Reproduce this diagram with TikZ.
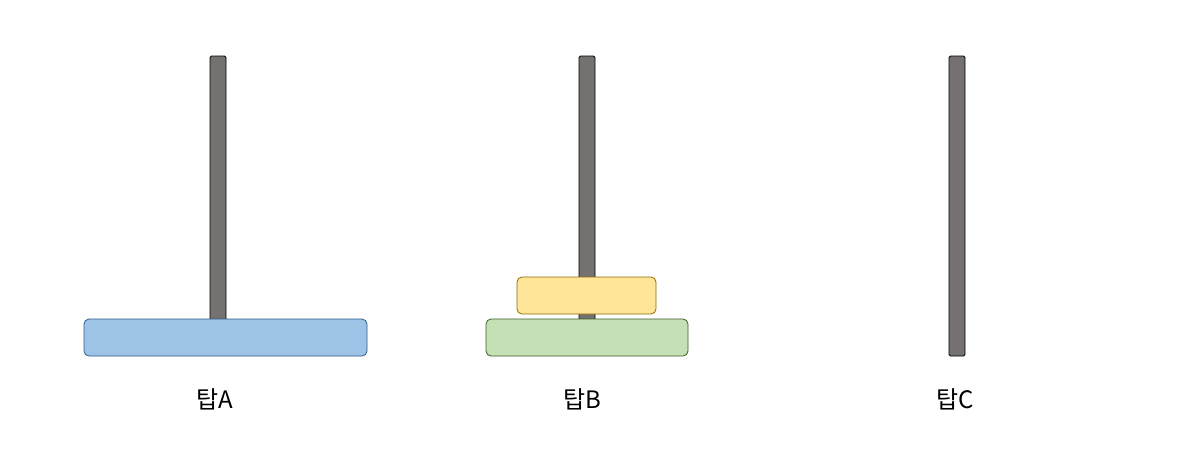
\documentclass[tikz,border=0pt]{standalone}
\usepackage{fontspec}
\newfontfamily\kr{Noto Sans CJK KR}[Scale=1.0]
\definecolor{polefill}{HTML}{767171}
\definecolor{bluefill}{HTML}{9DC3E6}
\definecolor{blueline}{HTML}{2E5A8C}
\definecolor{yelfill}{HTML}{FFE599}
\definecolor{yelline}{HTML}{8C6D00}
\definecolor{grnfill}{HTML}{C5E0B4}
\definecolor{grnline}{HTML}{3B5E27}
\tikzset{
  pole/.style={draw=black, fill=polefill, rounded corners=1.5pt, line width=0.8pt},
  disk/.style={rounded corners=5pt, line width=0.8pt},
  lbl/.style={font=\kr\fontsize{24}{28}\selectfont, inner sep=0pt},
}
\begin{document}
\begin{tikzpicture}[x=1pt,y=-1pt]
\useasboundingbox (0,0) rectangle (1184,471);
% poles
\draw[pole] (210,56) rectangle (226,322);
\draw[pole] (579,56) rectangle (595,322);
\draw[pole] (949,56) rectangle (965,356);
% disks
\draw[disk, draw=blueline, fill=bluefill] (84,319) rectangle (367,356);
\draw[disk, draw=yelline, fill=yelfill] (517,277) rectangle (656,314);
\draw[disk, draw=grnline, fill=grnfill] (486,319) rectangle (688,356);
% labels
\node[lbl] (la) at (214.5,399) {탑A};
\node[lbl] (lb) at (582,399) {탑B};
\node[lbl] (lc) at (955,399) {탑C};
\end{tikzpicture}
\end{document}
